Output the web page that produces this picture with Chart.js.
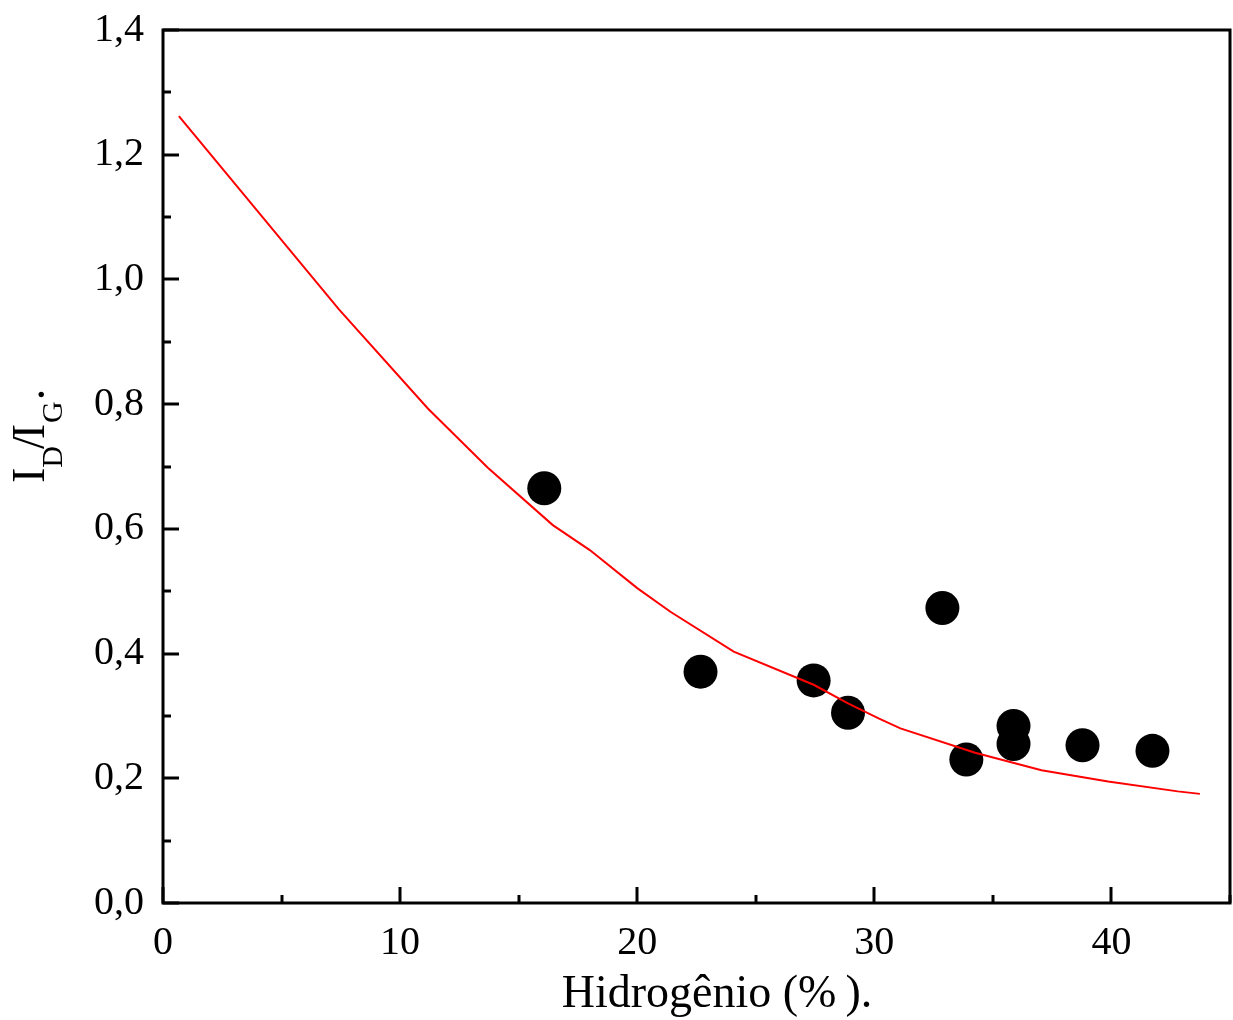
<!DOCTYPE html>
<html>
<head>
<meta charset="utf-8">
<script src="https://cdn.jsdelivr.net/npm/chart.js@4"></script>
<style>
  body { margin: 0; background: #fff; }
  canvas { display: block; }
</style>
</head>
<body>
<canvas id="myChart" width="1233" height="1020"></canvas>
<script>
// measured samples
const hydrogen = [16.08, 22.67, 27.44, 28.89, 32.87, 33.88, 35.87, 35.87, 38.78, 41.73];
const ratio = [0.665, 0.371, 0.357, 0.305, 0.473, 0.230, 0.284, 0.255, 0.253, 0.244];

// fitted curve
const fitX = [0.67, 7.42, 11.17, 13.7, 16.44, 18.0, 20.0, 21.4, 24.07, 27.44, 28.89, 30.18, 31.1, 34.25, 37.05, 39.86, 42.8, 43.73];
const fitY = [1.262, 0.952, 0.793, 0.698, 0.606, 0.566, 0.505, 0.467, 0.403, 0.350, 0.320, 0.296, 0.280, 0.241, 0.213, 0.195, 0.179, 0.175];

const xTicks = [0, 10, 20, 30, 40];
const yTicks = [0, 0.2, 0.4, 0.6, 0.8, 1.0, 1.2, 1.4];

const serif = "'Liberation Serif', 'Times New Roman', serif";

const toPoints = (xs, ys) => xs.map((x, i) => ({ x: x, y: ys[i] }));

// frame, inward ticks and axis titles
const framePlugin = {
  id: "frame",
  afterDraw(chart) {
    const ctx = chart.ctx;
    const area = chart.chartArea;
    const xs = chart.scales.x;
    const ys = chart.scales.y;
    ctx.save();
    ctx.strokeStyle = "#000";
    ctx.lineWidth = 3;
    ctx.lineCap = "butt";

    for (let v = 0; v <= 45; v += 5) {
      const px = Math.round(xs.getPixelForValue(v));
      const len = v % 10 === 0 ? 16 : 8;
      ctx.beginPath();
      ctx.moveTo(px, area.bottom);
      ctx.lineTo(px, area.bottom - len);
      ctx.stroke();
    }
    for (let k = 0; k <= 14; k++) {
      const py = Math.round(ys.getPixelForValue(k / 10));
      const len = k % 2 === 0 ? 16 : 8;
      ctx.beginPath();
      ctx.moveTo(area.left, py);
      ctx.lineTo(area.left + len, py);
      ctx.stroke();
    }
    ctx.strokeRect(area.left, area.top, area.right - area.left, area.bottom - area.top);

    ctx.fillStyle = "#000";
    ctx.textBaseline = "alphabetic";
    ctx.textAlign = "center";
    ctx.font = "46px " + serif;
    ctx.fillText("Hidrogênio (%\u2009).", 717, 1007);

    // I_D/I_G. rotated
    ctx.translate(44, 483);
    ctx.rotate(-Math.PI / 2);
    ctx.textAlign = "left";
    const big = "46px " + serif;
    const small = "30px " + serif;
    const parts = [["I", big, 0, 0], ["D", small, 18, 0], ["/", big, 0, -3], ["I", big, 0, -3], ["G", small, 18, 1], [".", big, 0, 1]];
    let cx = 0;
    parts.forEach(([t, f, dy, kern]) => {
      ctx.font = f;
      cx += kern;
      ctx.fillText(t, cx, dy);
      cx += ctx.measureText(t).width;
    });
    ctx.restore();
  },
};

new Chart(document.getElementById("myChart").getContext("2d"), {
  type: "scatter",
  data: {
    datasets: [
      {
        data: toPoints(fitX, fitY),
        showLine: true,
        borderColor: "#ff0000",
        borderWidth: 2,
        pointRadius: 0,
        tension: 0,
        order: 0,
      },
      {
        data: toPoints(hydrogen, ratio),
        backgroundColor: "#000",
        borderColor: "#000",
        pointRadius: 17,
        borderWidth: 0,
        order: 1,
      },
    ],
  },
  options: {
    responsive: false,
    animation: false,
    layout: { autoPadding: false, padding: { top: 30, right: 3, left: 0, bottom: 0 } },
    plugins: {
      legend: { display: false },
      tooltip: { enabled: false },
    },
    scales: {
      x: {
        type: "linear",
        min: 0,
        max: 45,
        afterFit: (scale) => {
          scale.height = 117;
          scale.paddingLeft = 0;
          scale.paddingRight = 0;
        },
        afterBuildTicks: (scale) => { scale.ticks = xTicks.map((v) => ({ value: v })); },
        grid: { display: false, drawTicks: false },
        border: { display: false },
        ticks: {
          color: "#000",
          padding: 16,
          font: { family: serif, size: 40 },
          callback: (v) => String(v),
        },
      },
      y: {
        type: "linear",
        min: 0,
        max: 1.4,
        afterFit: (scale) => {
          scale.width = 163;
          scale.paddingTop = 0;
          scale.paddingBottom = 0;
        },
        afterBuildTicks: (scale) => { scale.ticks = yTicks.map((v) => ({ value: v })); },
        grid: { display: false, drawTicks: false },
        border: { display: false },
        ticks: {
          color: "#000",
          padding: 19,
          font: { family: serif, size: 40 },
          callback: (v) => v.toFixed(1).replace(".", ","),
        },
      },
    },
  },
  plugins: [framePlugin],
});
</script>
</body>
</html>
